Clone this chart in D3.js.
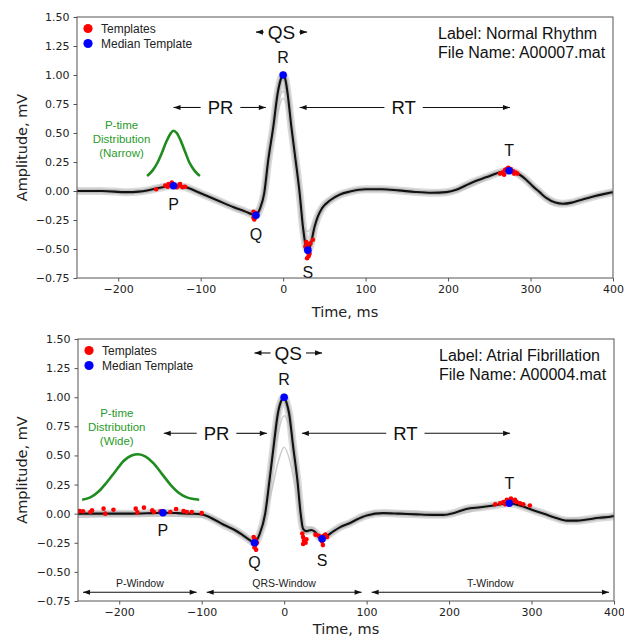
<!DOCTYPE html>
<html>
<head>
<meta charset="utf-8">
<script src="https://cdn.jsdelivr.net/npm/d3@7"></script>
<style>
	body { margin: 0; background: #fff; }
	svg text { font-family: "Liberation Sans", Arial, sans-serif; }
	.axis text { font-family: "DejaVu Sans", sans-serif; font-size: 11px; fill: #222; }
	.axis path, .axis line { stroke: #555; }
	.axlabel { font-family: "DejaVu Sans", sans-serif !important; font-size: 14.5px; fill: #222; }
</style>
</head>
<body>
<svg id="chart" width="624" height="636"></svg>
<script>
// ---------- data ----------
var xTicks = [-200, -100, 0, 100, 200, 300, 400];
var yTicks = [-0.75, -0.5, -0.25, 0, 0.25, 0.5, 0.75, 1, 1.25, 1.5];
var waveNames = ['P', 'Q', 'R', 'S', 'T'];

// Normal rhythm (A00007)
var nrTime   = [-250,-220,-190,-175,-165,-155,-145,-133,-122,-115,-100,-80,-60,-45,-38,-33,-28,-23,-18,-12,-6.7,-3,0,3,5.4,10,15,20,24,27,30,33,38,42,47,57,69,81,100,120,140,160,180,198,210,222,235,247,260,274,287,295,303,311,319,330,339,350,360,375,390,400];
var nrMedian = [0,0,-0.01,-0.005,0.005,0.02,0.035,0.045,0.04,0.025,-0.02,-0.08,-0.14,-0.18,-0.2,-0.21,-0.15,-0.02,0.27,0.55,0.84,0.96,1.0,0.95,0.84,0.55,0.27,-0.02,-0.31,-0.46,-0.51,-0.47,-0.31,-0.22,-0.15,-0.08,-0.03,-0.005,0.015,0.015,0.005,-0.008,-0.015,-0.01,0.01,0.05,0.09,0.12,0.155,0.175,0.14,0.095,0.04,-0.01,-0.06,-0.1,-0.11,-0.1,-0.08,-0.05,-0.025,-0.01];
var nrTplTime = [-250,-200,-170,-140,-120,-80,-40,-30,-20,-10,0,8,15,22,30,38,50,70,100,150,200,240,270,300,330,360,400];
var nrTplA    = [0.01,0,0,0.05,0.03,-0.07,-0.17,-0.15,0.1,0.55,0.8,0.6,0.2,-0.2,-0.35,-0.25,-0.1,-0.02,0.02,0,0,0.1,0.17,0.05,-0.11,-0.07,-0.02];
var nrTplB    = [-0.01,-0.01,0.01,0.06,0.04,-0.09,-0.2,-0.19,0.12,0.62,0.86,0.68,0.3,-0.3,-0.47,-0.3,-0.12,-0.04,0.01,0.01,-0.02,0.08,0.19,0.07,-0.12,-0.09,-0.01];
var nrDotT = [-154,-143,-139,-135,-127,-122,-119,-129,-140,-125, -36,-35,-34,-36,-33,-35,-32, 28,29,28,30,31,29,32,27,33,36,31, 263,266,269,271,273,276,279,282,284,268,280];
var nrDotV = [0.015,0.046,0.06,0.072,0.046,0.032,0.037,0.032,0.037,0.06, -0.18,-0.2,-0.22,-0.23,-0.19,-0.245,-0.21, -0.44,-0.46,-0.5,-0.53,-0.56,-0.58,-0.54,-0.48,-0.45,-0.42,-0.49, 0.15,0.16,0.18,0.19,0.2,0.19,0.17,0.16,0.15,0.14,0.15];
var nrWaveT = [-133, -33, 0, 30, 274];
var nrWaveV = [0.045, -0.21, 1.0, -0.51, 0.175];
var nrDistT = [-165,-158,-152,-147,-142,-137,-133,-129,-124,-119,-114,-108,-101];
var nrDistV = [0.13,0.18,0.25,0.33,0.42,0.49,0.52,0.5,0.43,0.34,0.25,0.18,0.13];
var nrIntFrom = [-33, -133, 20];
var nrIntTo   = [29, -21, 275];
var nrIntMid  = [-2, -76, 146];

// Atrial fibrillation (A00004)
var afTime   = [-250,-220,-190,-160,-147,-130,-115,-100,-85,-72,-60,-51,-43,-36,-30,-23,-17.7,-12.9,-7.6,-3.5,0,3,6,11,16,20,23,27,33,38,42,46,52,60,68,80,88,100,120,140,161,180,193,208,221,238,254,273,288,302,315,327,343,355,367,382,397,400];
var afMedian = [0,0,0,0.005,0.008,0.005,0,-0.006,-0.05,-0.1,-0.14,-0.18,-0.22,-0.25,-0.18,0,0.29,0.57,0.86,0.97,1.0,0.95,0.86,0.57,0.29,0,-0.13,-0.15,-0.14,-0.16,-0.2,-0.215,-0.19,-0.15,-0.115,-0.08,-0.05,-0.015,0.005,0,-0.006,-0.01,-0.01,0.01,0.04,0.055,0.07,0.09,0.065,0.03,0,-0.03,-0.06,-0.06,-0.05,-0.035,-0.025,-0.02];
var afTplTime = [-250,-200,-150,-100,-70,-45,-36,-25,-15,-7,0,7,14,20,25,35,46,60,80,110,150,200,240,275,300,340,370,400];
var afTplC    = [-0.03,-0.02,-0.02,-0.03,-0.1,-0.2,-0.22,-0.06,0.2,0.45,0.57,0.45,0.2,-0.05,-0.12,-0.13,-0.19,-0.14,-0.07,0.0,-0.01,-0.01,0.04,0.08,0.03,-0.05,-0.04,-0.03];
var afTplD    = [0.02,0.01,0.02,0.0,-0.08,-0.21,-0.24,-0.05,0.35,0.7,0.84,0.7,0.3,-0.02,-0.11,-0.12,-0.2,-0.13,-0.06,0.02,0.02,0.0,0.06,0.11,0.05,-0.04,-0.03,-0.02];
var afDotT = [-248,-244,-235,-233,-219,-217,-207,-180,-170,-178,-160,-158,-150,-138,-131,-122,-118,-112,-100, -37,-36,-35,-36,-34,-35,-33,-37, 22,23,24,26,23,27, 42,44,46,48,50,47,45,52,38, 256,262,266,270,275,278,282,286,290,298,268,280];
var afDotV = [0.022,0.02,0.014,0.028,0.043,0.0,0.034,0.043,0.052,0.011,0.028,0.014,0.02,0.014,0.04,0.022,0.014,0.014,0.005, -0.2,-0.23,-0.27,-0.29,-0.31,-0.22,-0.25,-0.26, -0.17,-0.2,-0.23,-0.25,-0.26,-0.22, -0.19,-0.2,-0.24,-0.19,-0.18,-0.27,-0.22,-0.2,-0.18, 0.08,0.09,0.1,0.12,0.13,0.11,0.1,0.09,0.08,0.07,0.08,0.12];
var afWaveT = [-147, -36, 0, 46, 273];
var afWaveV = [0.008, -0.25, 1.0, -0.215, 0.09];
var afDistT = [-245,-235,-225,-215,-205,-195,-185,-177,-168,-158,-148,-138,-128,-118,-103];
var afDistV = [0.12,0.14,0.19,0.27,0.36,0.45,0.5,0.51,0.49,0.43,0.34,0.25,0.18,0.14,0.12];
var afIntFrom = [-36, -146, 21.5];
var afIntTo   = [46, -21, 274];
var afIntMid  = [5, -82, 147];

var intLabels = ['QS', 'PR', 'RT'];
var windowLabels = ['P-Window', 'QRS-Window', 'T-Window'];
var windowStart = [-250, -100, 100];
var windowEnd   = [-100, 100, 400];

// ---------- drawing ----------
var svg = d3.select('#chart');
var defs = svg.append('defs');
defs.append('marker')
	.attr('id', 'head')
	.attr('viewBox', '-8 -4 9 8')
	.attr('refX', 0).attr('refY', 0)
	.attr('markerUnits', 'userSpaceOnUse')
	.attr('markerWidth', 9).attr('markerHeight', 8)
	.attr('orient', 'auto-start-reverse')
	.append('path')
	.attr('d', 'M0,0L-7,-2.6L-7,2.6Z')
	.attr('fill', '#111');

var panels = [
	{ id: 'nr', left: 77, right: 613, top: 17, bottom: 278, xlabGap: 39,
		time: nrTime, median: nrMedian, tplTime: nrTplTime, tpls: [nrTplA, nrTplB],
		dotT: nrDotT, dotV: nrDotV, waveT: nrWaveT, waveV: nrWaveV,
		distT: nrDistT, distV: nrDistV, distText: ['P-time', 'Distribution', '(Narrow)'], distTextT: -196, distTextV: 0.535,
		intFrom: nrIntFrom, intTo: nrIntTo, intMid: nrIntMid, intLevel: [1.37, 0.72, 0.72],
		label: ['Label: Normal Rhythm', 'File Name: A00007.mat'], windows: false },
	{ id: 'af', left: 78, right: 614, top: 339, bottom: 601, xlabGap: 33,
		time: afTime, median: afMedian, tplTime: afTplTime, tpls: [afTplC, afTplD],
		dotT: afDotT, dotV: afDotV, waveT: afWaveT, waveV: afWaveV,
		distT: afDistT, distV: afDistV, distText: ['P-time', 'Distribution', '(Wide)'], distTextT: -203, distTextV: 0.83,
		intFrom: afIntFrom, intTo: afIntTo, intMid: afIntMid, intLevel: [1.38, 0.69, 0.69],
		label: ['Label: Atrial Fibrillation', 'File Name: A00004.mat'], windows: true }
];

var labelOffset = { P: 18, Q: 19, R: -18, S: 22, T: -20 };

panels.forEach(function (p) {
	var x = d3.scaleLinear().domain([-250, 400]).range([p.left, p.right]);
	var y = d3.scaleLinear().domain([-0.75, 1.5]).range([p.bottom, p.top]);
	var g = svg.append('g');

	defs.append('clipPath').attr('id', 'clip-' + p.id)
		.append('rect').attr('x', p.left).attr('y', p.top)
		.attr('width', p.right - p.left).attr('height', p.bottom - p.top);

	var plot = g.append('g').attr('clip-path', 'url(#clip-' + p.id + ')');
	var line = d3.line().curve(d3.curveMonotoneX);

	var med = p.time.map(function (t, i) { return [x(t), y(p.median[i])]; });

	// template spread
	plot.append('path').attr('d', line(med))
		.attr('fill', 'none').attr('stroke', '#cfcfcf').attr('stroke-width', 8).attr('stroke-opacity', 0.75)
		.attr('stroke-linejoin', 'round');
	plot.append('path').attr('d', line(med))
		.attr('fill', 'none').attr('stroke', '#a0a0a0').attr('stroke-width', 4.6).attr('stroke-opacity', 0.6)
		.attr('stroke-linejoin', 'round');
	p.tpls.forEach(function (tpl) {
		plot.append('path')
			.attr('d', line(p.tplTime.map(function (t, i) { return [x(t), y(tpl[i])]; })))
			.attr('fill', 'none').attr('stroke', '#c2c2c2').attr('stroke-width', 1.5).attr('stroke-opacity', 0.8);
	});
	plot.append('path').attr('d', line(med))
		.attr('fill', 'none').attr('stroke', '#111').attr('stroke-width', 2.1);

	// P-time distribution
	plot.append('path')
		.attr('d', line(p.distT.map(function (t, i) { return [x(t), y(p.distV[i])]; })))
		.attr('fill', 'none').attr('stroke', '#1f8c1f').attr('stroke-width', 2.6);
	var dt = g.append('text').attr('fill', '#2a9a2a').attr('font-size', 11.5).attr('text-anchor', 'middle');
	p.distText.forEach(function (s, i) {
		dt.append('tspan').attr('x', x(p.distTextT)).attr('y', y(p.distTextV) + i * 14).text(s);
	});

	// template points
	plot.selectAll('.dot').data(p.dotT).enter().append('circle')
		.attr('cx', function (d) { return x(d); })
		.attr('cy', function (d, i) { return y(p.dotV[i]); })
		.attr('r', 2.3).attr('fill', 'red');
	plot.selectAll('.wave').data(p.waveT).enter().append('circle')
		.attr('cx', function (d) { return x(d); })
		.attr('cy', function (d, i) { return y(p.waveV[i]); })
		.attr('r', 3.8).attr('fill', 'blue');

	// wave letters
	g.selectAll('.wl').data(waveNames).enter().append('text')
		.attr('x', function (d, i) { return x(p.waveT[i]); })
		.attr('y', function (d, i) { return y(p.waveV[i]) + labelOffset[d]; })
		.attr('dy', '0.36em').attr('text-anchor', 'middle').attr('font-size', 16).attr('fill', '#111')
		.text(function (d) { return d; });

	// interval annotations
	intLabels.forEach(function (lab, i) {
		var cx = x(p.intMid[i]), cy = y(p.intLevel[i]);
		var t = g.append('text').attr('x', cx).attr('y', cy).attr('dy', '0.36em')
			.attr('text-anchor', 'middle').attr('font-size', lab === 'QS' ? 19 : 18.5).attr('fill', '#111').text(lab);
		var w = t.node().getComputedTextLength() / 2;
		var gap = lab === 'QS' ? 4 : 7;
		[[cx - w - gap, x(p.intFrom[i])], [cx + w + gap, x(p.intTo[i])]].forEach(function (s) {
			g.append('line').attr('x1', s[0]).attr('x2', s[1]).attr('y1', cy).attr('y2', cy)
				.attr('stroke', '#111').attr('stroke-width', 1.1).attr('marker-end', 'url(#head)');
		});
	});

	// windows (AF panel)
	if (p.windows) {
		windowLabels.forEach(function (lab, i) {
			var a = x(windowStart[i]) + 5, b = x(windowEnd[i]) - 5;
			g.append('line').attr('x1', a).attr('x2', b).attr('y1', y(-0.675)).attr('y2', y(-0.675))
				.attr('stroke', '#111').attr('stroke-width', 1.1)
				.attr('marker-start', 'url(#head)').attr('marker-end', 'url(#head)');
			g.append('text').attr('x', x((windowStart[i] + windowEnd[i]) / 2)).attr('y', y(-0.595))
				.attr('dy', '0.35em').attr('text-anchor', 'middle').attr('font-size', 10.5).attr('fill', '#222').text(lab);
		});
	}

	// file label
	p.label.forEach(function (s, i) {
		g.append('text').attr('x', p.left + 361).attr('y', p.top + 22 + i * 19)
			.attr('font-size', 16).attr('fill', '#111').text(s);
	});

	// legend
	var leg = g.append('g').attr('transform', 'translate(' + (p.left + 11) + ',' + (p.top + 11.5) + ')');
	[['Templates', 'red'], ['Median Template', 'blue']].forEach(function (d, i) {
		leg.append('circle').attr('cx', 0).attr('cy', i * 15).attr('r', 4.6).attr('fill', d[1]);
		leg.append('text').attr('x', 13).attr('y', i * 15).attr('dy', '0.35em')
			.attr('font-size', 12).attr('fill', '#222').text(d[0]);
	});

	// axes
	g.append('g').attr('class', 'axis').attr('transform', 'translate(0,' + p.bottom + ')')
		.call(d3.axisBottom(x).tickValues(xTicks).tickSize(3.5).tickPadding(4).tickFormat(d3.format('d')))
		.call(function (s) { s.select('.domain').remove(); });
	g.append('g').attr('class', 'axis').attr('transform', 'translate(' + p.left + ',0)')
		.call(d3.axisLeft(y).tickValues(yTicks).tickSize(3.5).tickPadding(4).tickFormat(d3.format('.2f')))
		.call(function (s) { s.select('.domain').remove(); });
	g.append('rect').attr('x', p.left).attr('y', p.top)
		.attr('width', p.right - p.left).attr('height', p.bottom - p.top)
		.attr('fill', 'none').attr('stroke', '#555').attr('stroke-width', 1);

	g.append('text').attr('class', 'axlabel').attr('text-anchor', 'middle')
		.attr('x', (p.left + p.right) / 2).attr('y', p.bottom + p.xlabGap).text('Time, ms');
	g.append('text').attr('class', 'axlabel').attr('text-anchor', 'middle')
		.attr('transform', 'translate(27,' + (p.top + p.bottom) / 2 + ') rotate(-90)').text('Amplitude, mV');
});
</script>
</body>
</html>
